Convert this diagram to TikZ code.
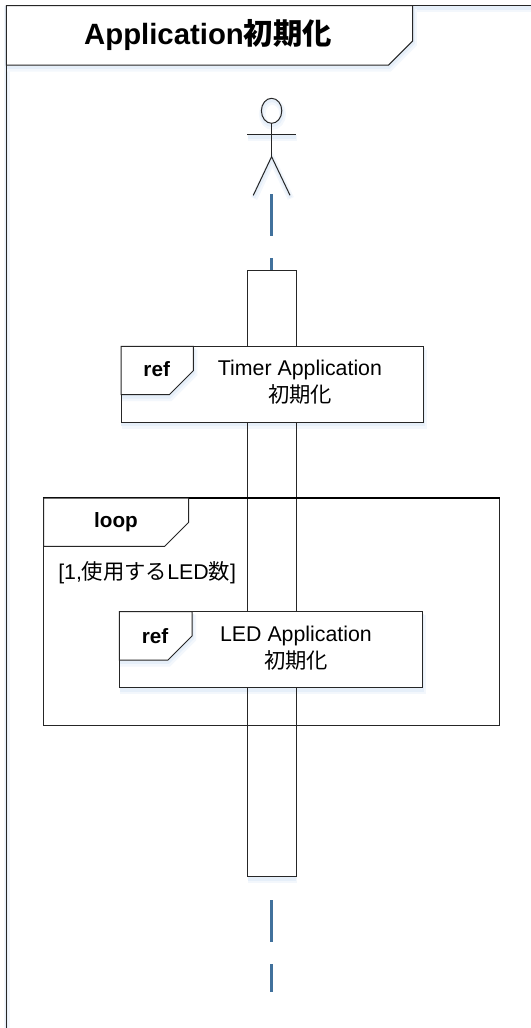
\documentclass[tikz,border=0pt]{standalone}
\usepackage{fontspec}
\setmainfont{Liberation Sans}
\newfontfamily\cjk{Noto Sans CJK JP}
\usepackage{tikz}
\definecolor{lifeblue}{HTML}{41719C}
\definecolor{shadowouter}{HTML}{F3F7FC}
\definecolor{shadowinner}{HTML}{E6EFF9}
\tikzset{
	softshadow/.style={
		preaction={draw=shadowouter, line width=5pt, transform canvas={xshift=0.6pt, yshift=-2.4pt}},
		preaction={draw=shadowinner, line width=2.5pt, transform canvas={xshift=0.3pt, yshift=-1.6pt}}},
	umlline/.style={draw=black!85, line width=0.75pt},
	lifedash/.style={draw=lifeblue, line width=1.7pt},
	tablabel/.style={font=\fontsize{15.5}{18}\selectfont\bfseries, inner sep=0pt},
	reflabel/.style={font=\fontsize{16}{20.25}\selectfont, align=center, inner sep=0pt}
}
\def\tabshape(#1,#2)(#3,#4){\draw[umlline, fill=white] (#1, #2) -- (#3, #2) -- (#3, #4-24) -- (#3-24, #4) -- (#1, #4) -- cycle;}
\def\tabshadow(#1,#2)(#3,#4){\path[softshadow] (#1, #4) -- (#3-24, #4) -- (#3, #4-24) -- (#3, #2);}
\begin{document}
\begin{tikzpicture}[x=0.75pt, y=-0.75pt]
	\useasboundingbox (0, 0) rectangle (531, 1028);

	\fill[white] (247.6, 270.3) rectangle (296, 876.7);

	% shadows
	\path[softshadow] (6.3, 1028) -- (6.3, 5.7) -- (531, 5.7);
	\tabshadow(6.3,5.7)(412.7,65)
	\path[softshadow] (271.6, 110.8) ellipse [x radius=10.2, y radius=12.5];
	\path[softshadow] (247.3, 134.7) -- (296, 134.7);
	\path[softshadow] (253.3, 195.3) -- (271.6, 156.7) -- (290, 195.3);
	\path[softshadow] (247.6, 876.7) -- (296, 876.7);
	\path[softshadow] (121, 422.3) -- (423.3, 422.3) -- (423.3, 346.3);
	\path[softshadow] (119.3, 687.7) -- (422, 687.7) -- (422, 611.7);

	% frame
	\draw[umlline] (6.3, 1028) -- (6.3, 5.7) -- (531, 5.7);
	\tabshape(6.3,5.7)(412.7,65)
	\node[tablabel, font=\fontsize{22}{26}\selectfont\bfseries] (title) at (208, 35) {Application{\cjk 初期化}};

	% actor
	\coordinate (neck) at (271.6, 123.3);
	\coordinate (crotch) at (271.6, 156.7);
	\coordinate (armleft) at (247.3, 134.7);
	\coordinate (armright) at (296, 134.7);
	\coordinate (footleft) at (253.3, 195.3);
	\coordinate (footright) at (290, 195.3);
	\draw[umlline] (271.6, 110.8) ellipse [x radius=10.2, y radius=12.5];
	\draw[umlline] (armleft) -- (armright);
	\draw[umlline] (neck) -- (crotch);
	\draw[umlline] (footleft) -- (crotch) -- (footright);

	% lifeline
	\coordinate (dasha) at (271.6, 194.3);
	\coordinate (dashb) at (271.6, 236);
	\coordinate (dashc) at (271.6, 258.3);
	\coordinate (dashd) at (271.6, 270.3);
	\coordinate (dashe) at (271.6, 900);
	\coordinate (dashf) at (271.6, 942);
	\coordinate (dashg) at (271.6, 964.3);
	\coordinate (dashh) at (271.6, 992);
	\draw[lifedash] (dasha) -- (dashb);
	\draw[lifedash] (dashc) -- (dashd);
	\draw[lifedash] (dashe) -- (dashf);
	\draw[lifedash] (dashg) -- (dashh);
	\draw[umlline] (247.6, 270.3) rectangle (296, 876.7);

	% loop
	\draw[umlline] (43.7, 498) rectangle (499.3, 725.7);
	\draw[draw=black, line width=1.6pt] (42.9, 498) -- (500, 498);
	\tabshape(43.7,498)(188.7,546.3)
	\node[tablabel] (looptab) at (116, 521.7) {loop};
	\node[inner sep=0pt, anchor=west, font=\fontsize{16}{20}\selectfont] (guard) at (58, 573) {[1,{\cjk 使用する}LED{\cjk 数}]};

	% timer ref
	\fill[white] (121, 346.3) rectangle (423.3, 422.3);
	\tabshadow(121,346.3)(193.3,394.7)
	\draw[umlline] (121, 346.3) rectangle (423.3, 422.3);
	\tabshape(121,346.3)(193.3,394.7)
	\node[tablabel] (timertab) at (156.7, 369) {ref};
	\node[reflabel] (timertext) at (300, 382.5) {Timer Application\\{\cjk 初期化}};

	% led ref
	\fill[white] (119.3, 611.7) rectangle (422, 687.7);
	\tabshadow(119.3,611.7)(192,660)
	\draw[umlline] (119.3, 611.7) rectangle (422, 687.7);
	\tabshape(119.3,611.7)(192,660)
	\node[tablabel] (ledtab) at (155, 635.7) {ref};
	\node[reflabel] (ledtext) at (296, 648.5) {LED Application\\{\cjk 初期化}};
\end{tikzpicture}
\end{document}
